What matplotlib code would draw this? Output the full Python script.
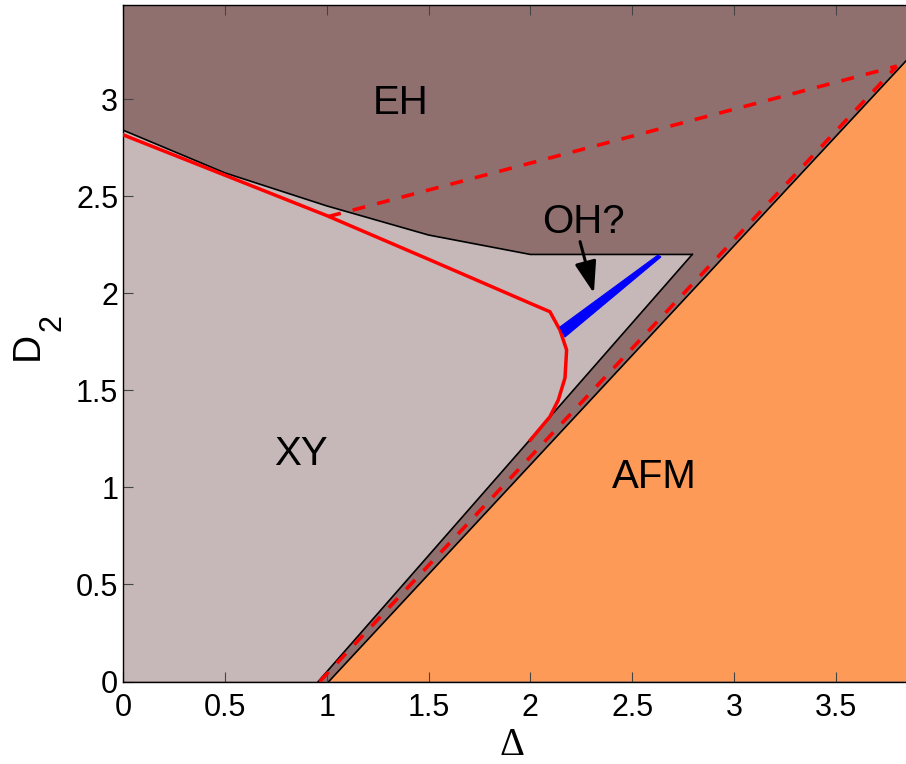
import matplotlib
matplotlib.use("Agg")
import matplotlib.pyplot as plt
from matplotlib.patches import Polygon

plt.rcParams['font.family'] = ['Liberation Sans', 'DejaVu Sans']

# Phase boundaries in the (Delta, D2) plane
xy_top_delta = [0.0, 0.5, 1.0, 1.5, 2.0, 2.795]
xy_top_d2 = [2.84, 2.62, 2.45, 2.30, 2.20, 2.20]
xy_right_delta = [2.795, 0.958]
xy_right_d2 = [2.20, 0.0]

afm_delta = [1.01, 3.845]
afm_d2 = [0.0, 3.197]

# Red solid transition line
red_delta = [0.0, 1.0, 1.5, 2.0, 2.096, 2.145, 2.178, 2.170, 2.137, 2.096, 2.0]
red_d2 = [2.816, 2.40, 2.175, 1.948, 1.905, 1.811, 1.708, 1.564, 1.45, 1.364, 1.244]

# Red dashed lines
dash_up_delta = [1.007, 3.80]
dash_up_d2 = [2.395, 3.17]
dash_low_delta = [0.965, 3.80]
dash_low_d2 = [0.0, 3.17]

# Blue wedge (OH?)
blue_delta = [2.145, 2.627, 2.641, 2.170]
blue_d2 = [1.826, 2.197, 2.187, 1.775]

# Region labels
labels = ["EH", "XY", "AFM", "OH?"]
label_delta = [1.363, 0.872, 2.607, 2.260]
label_d2 = [2.924, 1.115, 0.997, 2.309]

# Arrow from OH? label to the wedge
arrow_start = (2.244, 2.266)
arrow_tip = (2.312, 2.0)

xticks = [0, 0.5, 1, 1.5, 2, 2.5, 3, 3.5]
yticks = [0, 0.5, 1, 1.5, 2, 2.5, 3]
xmax, ymax = 3.845, 3.485

c_eh = '#8F706F'
c_xy = '#C6B8B8'
c_afm = '#FE9A58'

fig = plt.figure(figsize=(9.06, 7.64), dpi=100)
ax = fig.add_axes([123.2 / 906, 82.5 / 764, 1 - 123.2 / 906, 676.5 / 764])
ax.set_xlim(0, xmax)
ax.set_ylim(0, ymax)
ax.set_facecolor(c_eh)

# XY region
xy_poly = list(zip([0.0] + xy_right_delta[::-1] + xy_top_delta[::-1],
                   [0.0] + xy_right_d2[::-1] + xy_top_d2[::-1]))
ax.add_patch(Polygon(xy_poly, closed=True, facecolor=c_xy, edgecolor='none', zorder=1))

# AFM region
afm_poly = [(afm_delta[0], afm_d2[0]), (afm_delta[1], afm_d2[1]), (xmax, 0.0)]
ax.add_patch(Polygon(afm_poly, closed=True, facecolor=c_afm, edgecolor='none', zorder=1))

# Black boundaries
ax.plot(xy_top_delta, xy_top_d2, color='k', lw=1.2, zorder=3)
ax.plot(xy_right_delta, xy_right_d2, color='k', lw=1.2, zorder=3)
ax.plot(afm_delta, afm_d2, color='k', lw=1.2, zorder=3)

# Red lines
ax.plot(red_delta, red_d2, color='#FF0000', lw=2.5, zorder=4)
ax.plot(dash_up_delta, dash_up_d2, color='#FF0000', lw=2.6, dashes=(3.6, 3.4), zorder=4)
ax.plot(dash_low_delta, dash_low_d2, color='#FF0000', lw=2.6, dashes=(3.6, 3.4), zorder=4)

# Blue wedge
ax.add_patch(Polygon(list(zip(blue_delta, blue_d2)), closed=True,
                     facecolor='#0000FF', edgecolor='#0000FF', lw=0.8, zorder=5))

for t, x, y in zip(labels, label_delta, label_d2):
    ax.text(x, y, t, fontsize=29, ha='center', va='baseline', color='k', zorder=6)

ax.annotate('', xy=arrow_tip, xytext=arrow_start,
            arrowprops=dict(arrowstyle='-|>,head_length=0.97,head_width=0.33',
                            mutation_scale=20, lw=2.2, color='k',
                            shrinkA=0, shrinkB=0), zorder=6)

ax.set_xticks(xticks)
ax.set_xticklabels([f"{v:g}" for v in xticks])
ax.set_yticks(yticks)
ax.set_yticklabels([f"{v:g}" for v in yticks])
ax.tick_params(axis='both', direction='in', length=7, width=0.8, color='#444444',
               labelsize=22, top=True, right=False)
ax.tick_params(axis='x', pad=8.5)
ax.tick_params(axis='y', pad=3.5)
for s in ['left', 'bottom', 'top']:
    ax.spines[s].set_linewidth(1.0)
ax.spines['right'].set_visible(False)

# Axis titles
ax.set_xlabel('Δ', fontsize=28, family=['Liberation Serif', 'DejaVu Serif'])
ax.xaxis.set_label_coords(0.497, -0.108)
ax.xaxis.label.set_va('baseline')
ax.text(-0.1216, 0.496, 'D', fontsize=28, rotation=90, ha='center', va='center',
        transform=ax.transAxes, clip_on=False)
ax.text(-0.0905, 0.530, '2', fontsize=22, rotation=90, ha='center', va='center',
        transform=ax.transAxes, clip_on=False)

fig.savefig('out.png', dpi=100)
